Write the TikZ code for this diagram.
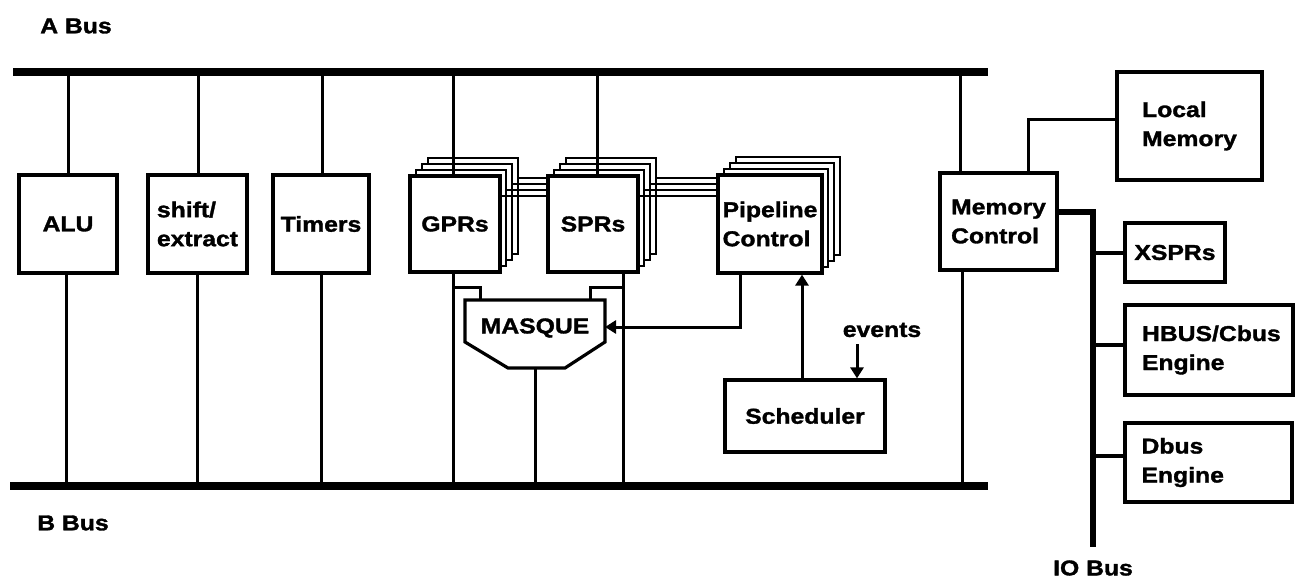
\documentclass[tikz,border=0pt]{standalone}
\usepackage{fontspec}
\setmainfont{Liberation Sans}[FakeStretch=1.15, BoldFeatures={FakeBold=1.5}]
\usetikzlibrary{arrows.meta}
\begin{document}
\begin{tikzpicture}[x=1pt,y=-1pt,
  txt/.style={font=\fontsize{21.5}{29}\selectfont\bfseries},
  box/.style={draw, line width=3.2pt, fill=white, txt, inner sep=0pt},
  wire/.style={line width=3pt},
  bus/.style={line width=8pt},
  iobus/.style={line width=6pt},
  layer/.style={draw, line width=2.8pt, fill=white},
  hatch/.style={line width=2.4pt},
  arr/.style={wire, -{Triangle[width=13pt,length=11pt]}}]
\useasboundingbox (0,0) rectangle (1297,580);
% buses
\coordinate (a0) at (13,72); \coordinate (a1) at (988,72);
\coordinate (b0) at (10,486); \coordinate (b1) at (988,486);
\draw[bus] (a0) -- (a1);
\draw[bus] (b0) -- (b1);
\node[txt] (alab) at (76,26) {A Bus};
\node[txt] (blab) at (73,523) {B Bus};
\node[txt] (iolab) at (1093,568) {IO Bus};
% simple boxes
\node[box, minimum width=98, minimum height=98] (alu) at (68,224) {ALU};
\node[box, minimum width=99, minimum height=98, align=left] (shx) at (197.5,224) {shift/\\extract};
\node[box, minimum width=96, minimum height=98] (tim) at (321,224) {Timers};
% stacked register boxes
\foreach \k in {3,2,1} {
  \draw[layer] (410+6*\k,176-6*\k) rectangle (500+6*\k,272-6*\k);
  \draw[layer] (548+6*\k,176-6*\k) rectangle (638+6*\k,272-6*\k);
  \draw[layer] (718+6*\k,175-6*\k) rectangle (822+6*\k,273-6*\k);
}
\node[box, minimum width=90, minimum height=96] (gpr) at (455,224) {GPRs};
\node[box, minimum width=90, minimum height=96] (spr) at (593,224) {SPRs};
\node[box, minimum width=104, minimum height=98, align=left] (pc) at (770,224) {Pipeline\\Control};
\foreach \k in {0,1,2,3} {
  \draw[hatch] (500+6*\k,196-6*\k) -- (spr.west |- 0,{196-6*\k});
  \draw[hatch] (638+6*\k,196-6*\k) -- (pc.west |- 0,{196-6*\k});
}
% MASQUE
\coordinate (mtl) at (465,300); \coordinate (mtr) at (605,300);
\coordinate (mr) at (605,327);
\coordinate (mbl) at (508,368); \coordinate (mbr) at (565,368);
\draw[line width=3.2pt, line join=miter, fill=white] (mtl) -- (mtr) -- (605,342) -- (mbr) -- (mbl) -- (465,342) -- cycle;
\node[txt] (mq) at (535,328) {MASQUE};
\coordinate (mb) at (535,368);
% scheduler
\node[box, minimum width=160, minimum height=72] (sch) at (805,416) {Scheduler};
\node[txt] (ev) at (882,330) {events};
\coordinate (evs) at (857,344);
% memory side
\node[box, minimum width=117, minimum height=97, align=left] (mc) at (998.5,221.5) {Memory\\Control};
\node[box, minimum width=145, minimum height=108, align=left] (lm) at (1189.5,126) {Local\\Memory};
\node[box, minimum width=100, minimum height=59] (xs) at (1175,252.5) {XSPRs};
\node[box, minimum width=168, minimum height=90, text width=134, align=left] (hb) at (1209,350) {HBUS/Cbus\\Engine};
\node[box, minimum width=167, minimum height=79, text width=134, align=left] (db) at (1208.5,462.5) {Dbus\\Engine};
% A bus drops
\draw[wire] (alu.north) -- (alu.north |- a0);
\draw[wire] ([xshift=0.5pt]shx.north) -- ([xshift=0.5pt]shx.north |- a0);
\draw[wire] ([xshift=1pt]tim.north) -- ([xshift=1pt]tim.north |- a0);
\draw[wire] ([xshift=-2pt]gpr.north) -- ([xshift=-2pt]gpr.north |- a0);
\draw[wire] ([xshift=4pt]spr.north) -- ([xshift=4pt]spr.north |- a0);
\draw[wire] ([xshift=-38.5pt]mc.north) -- ([xshift=-38.5pt]mc.north |- a0);
% B bus drops
\draw[wire] ([xshift=-2pt]alu.south) -- ([xshift=-2pt]alu.south |- b0);
\draw[wire] (shx.south) -- (shx.south |- b0);
\draw[wire] (tim.south) -- (tim.south |- b0);
\draw[wire] ([xshift=-2pt]gpr.south) -- ([xshift=-2pt]gpr.south |- b0);
\draw[wire] ([xshift=30pt]spr.south) -- ([xshift=30pt]spr.south |- b0);
\draw[wire] (mb) -- (mb |- b0);
\draw[wire] ([xshift=-36.5pt]mc.south) -- ([xshift=-36.5pt]mc.south |- b0);
% MASQUE feeds
\coordinate (gbr) at (453,287); \coordinate (sbr) at (623,287);
\draw[wire] (gbr) -| (480,300);
\draw[wire] (sbr) -| (590,300);
% control arrows
\draw[arr] ([xshift=-30pt]pc.south) |- (mr);
\draw[arr] ([xshift=-3pt]sch.north) -- ([xshift=-3pt]sch.north |- pc.south);
\draw[arr] (evs) -- (evs |- sch.north);
% memory connections
\draw[wire] ([xshift=29.5pt]mc.north) |- ([yshift=6pt]lm.west);
\coordinate (io0) at (1093,212); \coordinate (io1) at (1093,547);
\draw[iobus, line join=miter] ([yshift=9.5pt]mc.east) -- (io0) -- (io1);
\draw[line width=4pt] (xs.west -| io0) -- (xs.west);
\draw[line width=4pt] ([yshift=5pt]hb.west -| io0) -- ([yshift=5pt]hb.west);
\draw[line width=4pt] ([yshift=7pt]db.west -| io0) -- ([yshift=7pt]db.west);
\end{tikzpicture}
\end{document}
